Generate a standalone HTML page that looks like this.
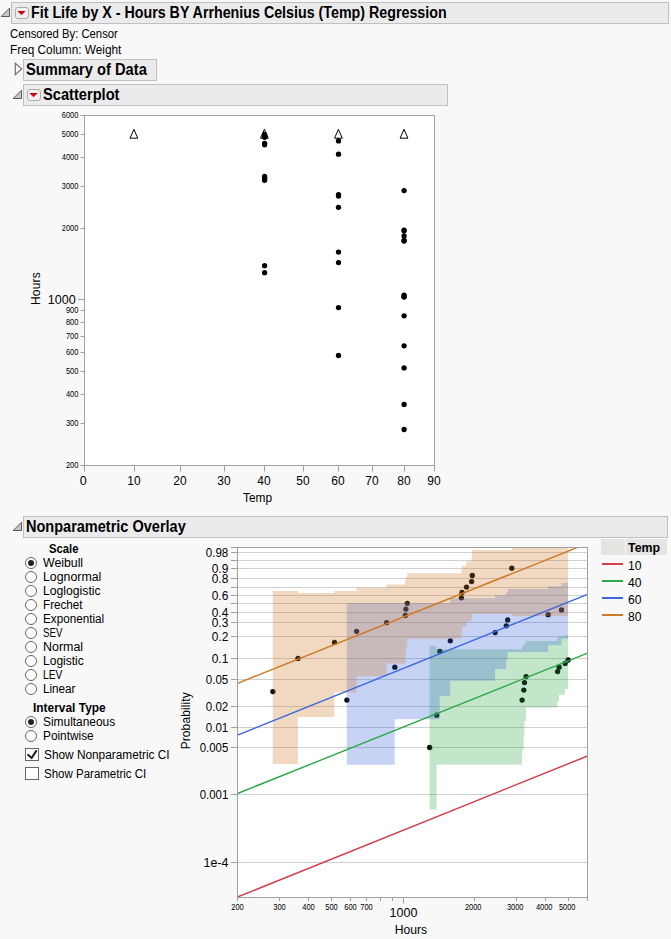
<!DOCTYPE html>
<html lang="en"><head><meta charset="utf-8"><title>Fit Life by X</title>
<style>
html,body{margin:0;padding:0;background:#f8f8f8}
body{width:671px;height:939px;background:#f8f8f8;position:relative;overflow:hidden;font-family:"Liberation Sans", sans-serif;font-size:12px;color:#000}
.hd{position:absolute;background:#ebebeb;border:1px solid #c0c0c0;box-sizing:border-box}
.t{position:absolute;white-space:nowrap;line-height:1}
.b{font-weight:bold}
.rb{position:absolute;width:12px;height:12px;border-radius:50%;border:1px solid #666;background:#fff;box-sizing:border-box}
.rb.on::after{content:"";position:absolute;left:2px;top:2px;width:6px;height:6px;border-radius:50%;background:#222}
.cb{position:absolute;width:14px;height:13px;border:1px solid #666;background:#fff;box-sizing:border-box}
.rt{position:absolute;width:14px;height:12px;border:1px solid #acacac;border-radius:3px;background:#f1f1f1;box-sizing:border-box}
svg{position:absolute;left:0;top:0}
svg text{font-family:"Liberation Sans", sans-serif}
</style></head><body>
<div class="hd" style="left:11px;top:2px;width:658px;height:22px"></div>
<div class="hd" style="left:23px;top:59px;width:134px;height:22px"></div>
<div class="hd" style="left:23px;top:84px;width:425px;height:22px"></div>
<div class="hd" style="left:23px;top:516px;width:645px;height:22px"></div>
<div class="t b" style="left:31.2px;top:4px;font-size:16px;line-height:17px;transform:scaleX(0.8910);transform-origin:0 0;">Fit Life by X - Hours BY Arrhenius Celsius (Temp) Regression</div>
<div class="t" style="left:9.5px;top:27px;font-size:12px;line-height:14px;transform:scaleX(0.9396);transform-origin:0 0;">Censored By: Censor</div>
<div class="t" style="left:10.1px;top:43px;font-size:12px;line-height:14px;transform:scaleX(0.9845);transform-origin:0 0;">Freq Column: Weight</div>
<div class="t b" style="left:26.0px;top:61px;font-size:16px;line-height:17px;transform:scaleX(0.9180);transform-origin:0 0;">Summary of Data</div>
<div class="t b" style="left:43.0px;top:86px;font-size:16px;line-height:17px;transform:scaleX(0.9154);transform-origin:0 0;">Scatterplot</div>
<div class="t b" style="left:25.9px;top:518px;font-size:16px;line-height:17px;transform:scaleX(0.9070);transform-origin:0 0;">Nonparametric Overlay</div>
<div class="rt" style="left:15px;top:7px"></div>
<div class="rt" style="left:27px;top:89px"></div>
<div class="t b" style="left:49.1px;top:542px;font-size:12px;line-height:14px;transform:scaleX(0.9407);transform-origin:0 0;">Scale</div>
<div class="rb on" style="left:25px;top:557.0px"></div>
<div class="t" style="left:42.8px;top:556px;font-size:12px;line-height:14px;transform:scaleX(1.0248);transform-origin:0 0;">Weibull</div>
<div class="rb" style="left:25px;top:571.0px"></div>
<div class="t" style="left:42.8px;top:570px;font-size:12px;line-height:14px;transform:scaleX(1.0282);transform-origin:0 0;">Lognormal</div>
<div class="rb" style="left:25px;top:585.0px"></div>
<div class="t" style="left:42.8px;top:584px;font-size:12px;line-height:14px;transform:scaleX(1.0158);transform-origin:0 0;">Loglogistic</div>
<div class="rb" style="left:25px;top:599.0px"></div>
<div class="t" style="left:42.8px;top:598px;font-size:12px;line-height:14px;transform:scaleX(0.9734);transform-origin:0 0;">Frechet</div>
<div class="rb" style="left:25px;top:613.0px"></div>
<div class="t" style="left:42.8px;top:612px;font-size:12px;line-height:14px;transform:scaleX(0.9742);transform-origin:0 0;">Exponential</div>
<div class="rb" style="left:25px;top:627.0px"></div>
<div class="t" style="left:42.8px;top:626px;font-size:12px;line-height:14px;transform:scaleX(0.8079);transform-origin:0 0;">SEV</div>
<div class="rb" style="left:25px;top:641.0px"></div>
<div class="t" style="left:42.8px;top:640px;font-size:12px;line-height:14px;transform:scaleX(1.0369);transform-origin:0 0;">Normal</div>
<div class="rb" style="left:25px;top:655.0px"></div>
<div class="t" style="left:42.8px;top:654px;font-size:12px;line-height:14px;transform:scaleX(1.0027);transform-origin:0 0;">Logistic</div>
<div class="rb" style="left:25px;top:669.0px"></div>
<div class="t" style="left:42.8px;top:668px;font-size:12px;line-height:14px;transform:scaleX(0.8553);transform-origin:0 0;">LEV</div>
<div class="rb" style="left:25px;top:683.0px"></div>
<div class="t" style="left:42.8px;top:682px;font-size:12px;line-height:14px;transform:scaleX(0.9742);transform-origin:0 0;">Linear</div>
<div class="t b" style="left:32.9px;top:701px;font-size:12px;line-height:14px;transform:scaleX(0.9940);transform-origin:0 0;">Interval Type</div>
<div class="rb on" style="left:25px;top:716.0px"></div>
<div class="t" style="left:43.0px;top:715px;font-size:12px;line-height:14px;transform:scaleX(0.9930);transform-origin:0 0;">Simultaneous</div>
<div class="rb" style="left:25px;top:730.0px"></div>
<div class="t" style="left:43.0px;top:729px;font-size:12px;line-height:14px;transform:scaleX(0.9872);transform-origin:0 0;">Pointwise</div>
<div class="cb" style="left:25px;top:748px"></div>
<div class="cb" style="left:25px;top:767px"></div>
<div class="t" style="left:44.3px;top:748px;font-size:12px;line-height:14px;transform:scaleX(0.9860);transform-origin:0 0;">Show Nonparametric CI</div>
<div class="t" style="left:44.3px;top:767px;font-size:12px;line-height:14px;transform:scaleX(0.9587);transform-origin:0 0;">Show Parametric CI</div>
<div style="position:absolute;left:601px;top:539px;width:24px;height:16px;background:#e4e4e0"></div>
<div style="position:absolute;left:626px;top:539px;width:41px;height:16px;background:#e4e4e0"></div>
<div class="t b" style="left:627.8px;top:541px;font-size:12px;line-height:14px;transform:scaleX(1.0317);transform-origin:0 0;">Temp</div>
<div class="t" style="left:628.1px;top:559px;font-size:12px;line-height:14px;transform:scaleX(1.0114);transform-origin:0 0;">10</div>
<div class="t" style="left:628.1px;top:576px;font-size:12px;line-height:14px;transform:scaleX(1.0114);transform-origin:0 0;">40</div>
<div class="t" style="left:628.1px;top:593px;font-size:12px;line-height:14px;transform:scaleX(1.0114);transform-origin:0 0;">60</div>
<div class="t" style="left:628.1px;top:610px;font-size:12px;line-height:14px;transform:scaleX(1.0114);transform-origin:0 0;">80</div>
<svg width="671" height="939" viewBox="0 0 671 939">
<defs><linearGradient id="rg" x1="0" y1="0" x2="0" y2="1"><stop offset="0" stop-color="#b80000"/><stop offset="1" stop-color="#e8202a"/></linearGradient></defs>
<path d="M9.5 8.2 L9.5 16.5 L1.2 16.5 Z" fill="#c6c6c6" stroke="#585858" stroke-width="1" stroke-linejoin="miter"/>
<path d="M21.5 90.2 L21.5 98.5 L13.2 98.5 Z" fill="#c6c6c6" stroke="#585858" stroke-width="1" stroke-linejoin="miter"/>
<path d="M21.5 522.2 L21.5 530.5 L13.2 530.5 Z" fill="#c6c6c6" stroke="#585858" stroke-width="1" stroke-linejoin="miter"/>
<path d="M15.3 63.3 L21.6 68.9 L15.3 74.7 Z" fill="none" stroke="#707070" stroke-width="1.2"/>
<path d="M17.3 10.9 h8.4 l-4.2 4.3 z" fill="url(#rg)"/>
<path d="M29.3 92.9 h8.4 l-4.2 4.3 z" fill="url(#rg)"/>
<path d="M27.5 754.3 l4.1 3.7 l5 -7.6" fill="none" stroke="#222" stroke-width="2.1"/>
<line x1="602" x2="623" y1="564" y2="564" stroke="#d0404f" stroke-width="2"/>
<line x1="602" x2="623" y1="581" y2="581" stroke="#2fa84a" stroke-width="2"/>
<line x1="602" x2="623" y1="598" y2="598" stroke="#3c68dc" stroke-width="2"/>
<line x1="602" x2="623" y1="615" y2="615" stroke="#cf7a28" stroke-width="2"/>
<rect x="84.5" y="115.5" width="350" height="350" fill="#fff" stroke="#a0a0a0" stroke-width="1"/>
<line x1="80.5" x2="84.5" y1="115.5" y2="115.5" stroke="#a0a0a0"/>
<text x="78.4" y="117.8" font-size="8.6" text-anchor="end" textLength="16.6" lengthAdjust="spacingAndGlyphs">6000</text>
<line x1="80.5" x2="84.5" y1="134.5" y2="134.5" stroke="#a0a0a0"/>
<text x="78.4" y="136.8" font-size="8.6" text-anchor="end" textLength="16.6" lengthAdjust="spacingAndGlyphs">5000</text>
<line x1="80.5" x2="84.5" y1="157.5" y2="157.5" stroke="#a0a0a0"/>
<text x="78.4" y="159.8" font-size="8.6" text-anchor="end" textLength="16.6" lengthAdjust="spacingAndGlyphs">4000</text>
<line x1="80.5" x2="84.5" y1="186.5" y2="186.5" stroke="#a0a0a0"/>
<text x="78.4" y="188.8" font-size="8.6" text-anchor="end" textLength="16.6" lengthAdjust="spacingAndGlyphs">3000</text>
<line x1="80.5" x2="84.5" y1="228.5" y2="228.5" stroke="#a0a0a0"/>
<text x="78.4" y="230.8" font-size="8.6" text-anchor="end" textLength="16.6" lengthAdjust="spacingAndGlyphs">2000</text>
<line x1="80.5" x2="84.5" y1="310.5" y2="310.5" stroke="#a0a0a0"/>
<text x="78.4" y="312.8" font-size="8.6" text-anchor="end" textLength="12.5" lengthAdjust="spacingAndGlyphs">900</text>
<line x1="80.5" x2="84.5" y1="322.5" y2="322.5" stroke="#a0a0a0"/>
<text x="78.4" y="324.8" font-size="8.6" text-anchor="end" textLength="12.5" lengthAdjust="spacingAndGlyphs">800</text>
<line x1="80.5" x2="84.5" y1="336.5" y2="336.5" stroke="#a0a0a0"/>
<text x="78.4" y="338.8" font-size="8.6" text-anchor="end" textLength="12.5" lengthAdjust="spacingAndGlyphs">700</text>
<line x1="80.5" x2="84.5" y1="352.5" y2="352.5" stroke="#a0a0a0"/>
<text x="78.4" y="354.8" font-size="8.6" text-anchor="end" textLength="12.5" lengthAdjust="spacingAndGlyphs">600</text>
<line x1="80.5" x2="84.5" y1="371.5" y2="371.5" stroke="#a0a0a0"/>
<text x="78.4" y="373.8" font-size="8.6" text-anchor="end" textLength="12.5" lengthAdjust="spacingAndGlyphs">500</text>
<line x1="80.5" x2="84.5" y1="394.5" y2="394.5" stroke="#a0a0a0"/>
<text x="78.4" y="396.8" font-size="8.6" text-anchor="end" textLength="12.5" lengthAdjust="spacingAndGlyphs">400</text>
<line x1="80.5" x2="84.5" y1="423.5" y2="423.5" stroke="#a0a0a0"/>
<text x="78.4" y="425.8" font-size="8.6" text-anchor="end" textLength="12.5" lengthAdjust="spacingAndGlyphs">300</text>
<line x1="80.5" x2="84.5" y1="465.5" y2="465.5" stroke="#a0a0a0"/>
<text x="78.4" y="467.8" font-size="8.6" text-anchor="end" textLength="12.5" lengthAdjust="spacingAndGlyphs">200</text>
<line x1="78" x2="84.5" y1="299.5" y2="299.5" stroke="#a0a0a0"/>
<text x="75.7" y="304.0" font-size="12" text-anchor="end" textLength="27.9" lengthAdjust="spacingAndGlyphs">1000</text>
<line x1="84.5" x2="84.5" y1="465.5" y2="471.5" stroke="#a0a0a0"/>
<text x="83.2" y="485.2" font-size="12" text-anchor="middle" textLength="7.0" lengthAdjust="spacingAndGlyphs">0</text>
<line x1="134.5" x2="134.5" y1="465.5" y2="471.5" stroke="#a0a0a0"/>
<text x="133.9" y="485.2" font-size="12" text-anchor="middle" textLength="13.3" lengthAdjust="spacingAndGlyphs">10</text>
<line x1="180.5" x2="180.5" y1="465.5" y2="471.5" stroke="#a0a0a0"/>
<text x="179.9" y="485.2" font-size="12" text-anchor="middle" textLength="13.3" lengthAdjust="spacingAndGlyphs">20</text>
<line x1="224.5" x2="224.5" y1="465.5" y2="471.5" stroke="#a0a0a0"/>
<text x="223.9" y="485.2" font-size="12" text-anchor="middle" textLength="13.3" lengthAdjust="spacingAndGlyphs">30</text>
<line x1="264.5" x2="264.5" y1="465.5" y2="471.5" stroke="#a0a0a0"/>
<text x="263.9" y="485.2" font-size="12" text-anchor="middle" textLength="13.3" lengthAdjust="spacingAndGlyphs">40</text>
<line x1="303.5" x2="303.5" y1="465.5" y2="471.5" stroke="#a0a0a0"/>
<text x="302.9" y="485.2" font-size="12" text-anchor="middle" textLength="13.3" lengthAdjust="spacingAndGlyphs">50</text>
<line x1="338.5" x2="338.5" y1="465.5" y2="471.5" stroke="#a0a0a0"/>
<text x="337.9" y="485.2" font-size="12" text-anchor="middle" textLength="13.3" lengthAdjust="spacingAndGlyphs">60</text>
<line x1="372.5" x2="372.5" y1="465.5" y2="471.5" stroke="#a0a0a0"/>
<text x="371.9" y="485.2" font-size="12" text-anchor="middle" textLength="13.3" lengthAdjust="spacingAndGlyphs">70</text>
<line x1="404.5" x2="404.5" y1="465.5" y2="471.5" stroke="#a0a0a0"/>
<text x="403.9" y="485.2" font-size="12" text-anchor="middle" textLength="13.3" lengthAdjust="spacingAndGlyphs">80</text>
<line x1="434.5" x2="434.5" y1="465.5" y2="471.5" stroke="#a0a0a0"/>
<text x="433.9" y="485.2" font-size="12" text-anchor="middle" textLength="13.3" lengthAdjust="spacingAndGlyphs">90</text>
<text x="257.5" y="501.7" font-size="12" text-anchor="middle" textLength="29.1" lengthAdjust="spacingAndGlyphs">Temp</text>
<text transform="translate(39.9 288.6) rotate(-90)" font-size="12" text-anchor="middle" letter-spacing="0.15">Hours</text>
<circle cx="264.6" cy="272.7" r="2.65" fill="#000"/>
<circle cx="264.6" cy="265.7" r="2.65" fill="#000"/>
<circle cx="264.6" cy="180.3" r="2.65" fill="#000"/>
<circle cx="264.6" cy="178.6" r="2.65" fill="#000"/>
<circle cx="264.6" cy="177.9" r="2.65" fill="#000"/>
<circle cx="264.6" cy="176.3" r="2.65" fill="#000"/>
<circle cx="264.6" cy="144.8" r="2.65" fill="#000"/>
<circle cx="264.6" cy="143.3" r="2.65" fill="#000"/>
<circle cx="264.6" cy="137.3" r="2.65" fill="#000"/>
<circle cx="264.6" cy="134.3" r="2.65" fill="#000"/>
<circle cx="338.5" cy="355.5" r="2.65" fill="#000"/>
<circle cx="338.5" cy="307.6" r="2.65" fill="#000"/>
<circle cx="338.5" cy="262.6" r="2.65" fill="#000"/>
<circle cx="338.5" cy="252.1" r="2.65" fill="#000"/>
<circle cx="338.5" cy="207.3" r="2.65" fill="#000"/>
<circle cx="338.5" cy="196.1" r="2.65" fill="#000"/>
<circle cx="338.5" cy="194.7" r="2.65" fill="#000"/>
<circle cx="338.5" cy="154.2" r="2.65" fill="#000"/>
<circle cx="338.5" cy="140.9" r="2.65" fill="#000"/>
<circle cx="404.1" cy="429.5" r="2.65" fill="#000"/>
<circle cx="404.1" cy="404.4" r="2.65" fill="#000"/>
<circle cx="404.1" cy="367.9" r="2.65" fill="#000"/>
<circle cx="404.1" cy="345.8" r="2.65" fill="#000"/>
<circle cx="404.1" cy="315.8" r="2.65" fill="#000"/>
<circle cx="404.1" cy="297.1" r="2.65" fill="#000"/>
<circle cx="404.1" cy="296.5" r="2.65" fill="#000"/>
<circle cx="404.1" cy="295.1" r="2.65" fill="#000"/>
<circle cx="404.1" cy="241.0" r="2.65" fill="#000"/>
<circle cx="404.1" cy="240.4" r="2.65" fill="#000"/>
<circle cx="404.1" cy="235.9" r="2.65" fill="#000"/>
<circle cx="404.1" cy="230.8" r="2.65" fill="#000"/>
<circle cx="404.1" cy="230.1" r="2.65" fill="#000"/>
<circle cx="404.1" cy="190.6" r="2.65" fill="#000"/>
<path d="M133.9 129.4 L137.8 138.2 L130.0 138.2 Z" fill="none" stroke="#000" stroke-width="1"/>
<path d="M264.4 129.4 L268.3 138.2 L260.5 138.2 Z" fill="none" stroke="#000" stroke-width="1"/>
<path d="M338.4 129.4 L342.3 138.2 L334.5 138.2 Z" fill="none" stroke="#000" stroke-width="1"/>
<path d="M404.0 129.4 L407.9 138.2 L400.1 138.2 Z" fill="none" stroke="#000" stroke-width="1"/>
<rect x="237.5" y="547.5" width="350" height="350" fill="#fff"/>
<line x1="237.5" x2="587.5" y1="552.5" y2="552.5" stroke="#d0d0d0"/>
<line x1="237.5" x2="587.5" y1="568.5" y2="568.5" stroke="#d0d0d0"/>
<line x1="237.5" x2="587.5" y1="578.5" y2="578.5" stroke="#d0d0d0"/>
<line x1="237.5" x2="587.5" y1="595.5" y2="595.5" stroke="#d0d0d0"/>
<line x1="237.5" x2="587.5" y1="612.5" y2="612.5" stroke="#d0d0d0"/>
<line x1="237.5" x2="587.5" y1="622.5" y2="622.5" stroke="#d0d0d0"/>
<line x1="237.5" x2="587.5" y1="636.5" y2="636.5" stroke="#d0d0d0"/>
<line x1="237.5" x2="587.5" y1="658.5" y2="658.5" stroke="#d0d0d0"/>
<line x1="237.5" x2="587.5" y1="679.5" y2="679.5" stroke="#d0d0d0"/>
<line x1="237.5" x2="587.5" y1="706.5" y2="706.5" stroke="#d0d0d0"/>
<line x1="237.5" x2="587.5" y1="727.5" y2="727.5" stroke="#d0d0d0"/>
<line x1="237.5" x2="587.5" y1="747.5" y2="747.5" stroke="#d0d0d0"/>
<line x1="237.5" x2="587.5" y1="794.5" y2="794.5" stroke="#d0d0d0"/>
<line x1="237.5" x2="587.5" y1="862.5" y2="862.5" stroke="#d0d0d0"/>
<line x1="237.5" x2="587.5" y1="560.5" y2="560.5" stroke="#d0d0d0"/>
<line x1="237.5" x2="587.5" y1="587.5" y2="587.5" stroke="#d0d0d0"/>
<line x1="237.5" x2="587.5" y1="603.5" y2="603.5" stroke="#d0d0d0"/>
<circle cx="429.7" cy="747.5" r="2.65" fill="#000"/>
<circle cx="436.7" cy="715.2" r="2.65" fill="#000"/>
<circle cx="522.1" cy="700.1" r="2.65" fill="#000"/>
<circle cx="523.8" cy="690.1" r="2.65" fill="#000"/>
<circle cx="524.5" cy="682.6" r="2.65" fill="#000"/>
<circle cx="526.1" cy="676.6" r="2.65" fill="#000"/>
<circle cx="557.6" cy="671.6" r="2.65" fill="#000"/>
<circle cx="559.1" cy="667.2" r="2.65" fill="#000"/>
<circle cx="565.1" cy="663.4" r="2.65" fill="#000"/>
<circle cx="568.1" cy="660.0" r="2.65" fill="#000"/>
<circle cx="346.9" cy="700.1" r="2.65" fill="#000"/>
<circle cx="394.8" cy="667.2" r="2.65" fill="#000"/>
<circle cx="439.8" cy="651.5" r="2.65" fill="#000"/>
<circle cx="450.3" cy="640.8" r="2.65" fill="#000"/>
<circle cx="495.1" cy="632.6" r="2.65" fill="#000"/>
<circle cx="506.3" cy="625.8" r="2.65" fill="#000"/>
<circle cx="507.7" cy="619.9" r="2.65" fill="#000"/>
<circle cx="548.2" cy="614.7" r="2.65" fill="#000"/>
<circle cx="561.5" cy="609.9" r="2.65" fill="#000"/>
<circle cx="272.9" cy="691.6" r="2.65" fill="#000"/>
<circle cx="298.0" cy="658.4" r="2.65" fill="#000"/>
<circle cx="334.5" cy="642.4" r="2.65" fill="#000"/>
<circle cx="356.6" cy="631.3" r="2.65" fill="#000"/>
<circle cx="386.6" cy="622.7" r="2.65" fill="#000"/>
<circle cx="405.3" cy="615.5" r="2.65" fill="#000"/>
<circle cx="405.9" cy="609.1" r="2.65" fill="#000"/>
<circle cx="407.3" cy="603.3" r="2.65" fill="#000"/>
<circle cx="461.4" cy="597.8" r="2.65" fill="#000"/>
<circle cx="462.0" cy="592.5" r="2.65" fill="#000"/>
<circle cx="466.5" cy="587.1" r="2.65" fill="#000"/>
<circle cx="471.6" cy="581.6" r="2.65" fill="#000"/>
<circle cx="472.3" cy="575.5" r="2.65" fill="#000"/>
<circle cx="511.8" cy="568.2" r="2.65" fill="#000"/>
<path d="M429.6 645.9 L436.6 645.9 L436.6 649.2 L522.0 649.2 L522.0 646.5 L523.7 646.5 L523.7 644.5 L524.4 644.5 L524.4 643.0 L526.0 643.0 L526.0 641.0 L557.5 641.0 L557.5 637.0 L559.0 637.0 L559.0 636.2 L565.0 636.2 L565.0 635.2 L568.0 635.2 L568.0 689.1 L565.0 689.1 L565.0 694.7 L559.0 694.7 L559.0 701.0 L557.5 701.0 L557.5 707.6 L526.0 707.6 L526.0 721.0 L524.4 721.0 L524.4 735.0 L523.7 735.0 L523.7 750.0 L522.0 750.0 L522.0 764.7 L436.6 764.7 L436.6 809.4 L429.6 809.4 Z" fill="#2fa84a" fill-opacity="0.29"/>
<path d="M346.8 603.1 L394.7 603.1 L394.7 603.1 L439.7 603.1 L439.7 603.1 L450.2 603.1 L450.2 598.2 L495.0 598.2 L495.0 595.3 L506.2 595.3 L506.2 592.3 L507.6 592.3 L507.6 588.9 L548.1 588.9 L548.1 586.3 L561.4 586.3 L561.4 583.1 L568.0 583.1 L568.0 638.8 L561.4 638.8 L561.4 645.3 L548.1 645.3 L548.1 652.1 L507.6 652.1 L507.6 659.4 L506.2 659.4 L506.2 668.9 L495.0 668.9 L495.0 680.7 L450.2 680.7 L450.2 696.1 L439.7 696.1 L439.7 719.2 L394.7 719.2 L394.7 764.8 L346.8 764.8 Z" fill="#3c68dc" fill-opacity="0.29"/>
<path d="M272.8 591.1 L297.9 591.1 L297.9 592.9 L334.4 592.9 L334.4 591.1 L356.5 591.1 L356.5 587.8 L386.5 587.8 L386.5 584.5 L405.2 584.5 L405.2 580.5 L405.8 580.5 L405.8 577.0 L407.2 577.0 L407.2 573.2 L461.3 573.2 L461.3 569.5 L461.9 569.5 L461.9 565.7 L466.4 565.7 L466.4 561.2 L471.5 561.2 L471.5 556.4 L472.2 556.4 L472.2 550.0 L511.7 550.0 L511.7 547.5 L568.0 547.5 L568.0 616.0 L511.7 616.0 L511.7 614.0 L472.2 614.0 L472.2 617.9 L471.5 617.9 L471.5 621.5 L466.4 621.5 L466.4 626.5 L461.9 626.5 L461.9 633.4 L461.3 633.4 L461.3 638.8 L407.2 638.8 L407.2 647.0 L405.8 647.0 L405.8 655.0 L405.2 655.0 L405.2 663.4 L386.5 663.4 L386.5 676.3 L356.5 676.3 L356.5 692.4 L334.4 692.4 L334.4 716.9 L297.9 716.9 L297.9 763.9 L272.8 763.9 Z" fill="#cf7a28" fill-opacity="0.29"/>
<clipPath id="wc"><rect x="237.5" y="547.5" width="350" height="350"/></clipPath>
<line x1="237.5" y1="897" x2="587.5" y2="756" stroke="#d0404f" stroke-width="1.45" clip-path="url(#wc)"/>
<line x1="237.5" y1="793.5" x2="587.5" y2="653.2" stroke="#2fa84a" stroke-width="1.45" clip-path="url(#wc)"/>
<line x1="237.5" y1="735.2" x2="587.5" y2="594.3" stroke="#3c68dc" stroke-width="1.45" clip-path="url(#wc)"/>
<line x1="237.5" y1="683.3" x2="587.5" y2="543.4" stroke="#cf7a28" stroke-width="1.45" clip-path="url(#wc)"/>
<rect x="237.5" y="547.5" width="350" height="350" fill="none" stroke="#a0a0a0" stroke-width="1"/>
<line x1="231" x2="237.5" y1="552.5" y2="552.5" stroke="#a0a0a0"/>
<text x="228.3" y="556.8" font-size="12" text-anchor="end" textLength="22.5" lengthAdjust="spacingAndGlyphs">0.98</text>
<line x1="231" x2="237.5" y1="568.5" y2="568.5" stroke="#a0a0a0"/>
<text x="228.3" y="572.8" font-size="12" text-anchor="end" textLength="16.6" lengthAdjust="spacingAndGlyphs">0.9</text>
<line x1="231" x2="237.5" y1="578.5" y2="578.5" stroke="#a0a0a0"/>
<text x="228.3" y="582.8" font-size="12" text-anchor="end" textLength="16.6" lengthAdjust="spacingAndGlyphs">0.8</text>
<line x1="231" x2="237.5" y1="595.5" y2="595.5" stroke="#a0a0a0"/>
<text x="228.3" y="599.8" font-size="12" text-anchor="end" textLength="16.6" lengthAdjust="spacingAndGlyphs">0.6</text>
<line x1="231" x2="237.5" y1="612.5" y2="612.5" stroke="#a0a0a0"/>
<text x="228.3" y="616.8" font-size="12" text-anchor="end" textLength="16.6" lengthAdjust="spacingAndGlyphs">0.4</text>
<line x1="231" x2="237.5" y1="622.5" y2="622.5" stroke="#a0a0a0"/>
<text x="228.3" y="626.8" font-size="12" text-anchor="end" textLength="16.6" lengthAdjust="spacingAndGlyphs">0.3</text>
<line x1="231" x2="237.5" y1="636.5" y2="636.5" stroke="#a0a0a0"/>
<text x="228.3" y="640.8" font-size="12" text-anchor="end" textLength="16.6" lengthAdjust="spacingAndGlyphs">0.2</text>
<line x1="231" x2="237.5" y1="658.5" y2="658.5" stroke="#a0a0a0"/>
<text x="228.3" y="662.8" font-size="12" text-anchor="end" textLength="16.6" lengthAdjust="spacingAndGlyphs">0.1</text>
<line x1="231" x2="237.5" y1="679.5" y2="679.5" stroke="#a0a0a0"/>
<text x="228.3" y="683.8" font-size="12" text-anchor="end" textLength="22.5" lengthAdjust="spacingAndGlyphs">0.05</text>
<line x1="231" x2="237.5" y1="706.5" y2="706.5" stroke="#a0a0a0"/>
<text x="228.3" y="710.8" font-size="12" text-anchor="end" textLength="22.5" lengthAdjust="spacingAndGlyphs">0.02</text>
<line x1="231" x2="237.5" y1="727.5" y2="727.5" stroke="#a0a0a0"/>
<text x="228.3" y="731.8" font-size="12" text-anchor="end" textLength="22.5" lengthAdjust="spacingAndGlyphs">0.01</text>
<line x1="231" x2="237.5" y1="747.5" y2="747.5" stroke="#a0a0a0"/>
<text x="228.3" y="751.8" font-size="12" text-anchor="end" textLength="28.6" lengthAdjust="spacingAndGlyphs">0.005</text>
<line x1="231" x2="237.5" y1="794.5" y2="794.5" stroke="#a0a0a0"/>
<text x="228.3" y="798.8" font-size="12" text-anchor="end" textLength="28.6" lengthAdjust="spacingAndGlyphs">0.001</text>
<line x1="231" x2="237.5" y1="862.5" y2="862.5" stroke="#a0a0a0"/>
<text x="228.3" y="866.8" font-size="12" text-anchor="end" textLength="24.8" lengthAdjust="spacingAndGlyphs">1e-4</text>
<line x1="231" x2="237.5" y1="560.5" y2="560.5" stroke="#a0a0a0"/>
<line x1="231" x2="237.5" y1="587.5" y2="587.5" stroke="#a0a0a0"/>
<line x1="231" x2="237.5" y1="603.5" y2="603.5" stroke="#a0a0a0"/>
<line x1="231" x2="237.5" y1="547.5" y2="547.5" stroke="#a0a0a0"/>
<line x1="237.5" x2="237.5" y1="897.5" y2="901" stroke="#a0a0a0"/>
<text x="237.5" y="910.2" font-size="8.6" text-anchor="middle" textLength="12.5" lengthAdjust="spacingAndGlyphs">200</text>
<line x1="279.5" x2="279.5" y1="897.5" y2="901" stroke="#a0a0a0"/>
<text x="279.5" y="910.2" font-size="8.6" text-anchor="middle" textLength="12.5" lengthAdjust="spacingAndGlyphs">300</text>
<line x1="308.5" x2="308.5" y1="897.5" y2="901" stroke="#a0a0a0"/>
<text x="308.5" y="910.2" font-size="8.6" text-anchor="middle" textLength="12.5" lengthAdjust="spacingAndGlyphs">400</text>
<line x1="331.5" x2="331.5" y1="897.5" y2="901" stroke="#a0a0a0"/>
<text x="331.5" y="910.2" font-size="8.6" text-anchor="middle" textLength="12.5" lengthAdjust="spacingAndGlyphs">500</text>
<line x1="350.5" x2="350.5" y1="897.5" y2="901" stroke="#a0a0a0"/>
<text x="350.5" y="910.2" font-size="8.6" text-anchor="middle" textLength="12.5" lengthAdjust="spacingAndGlyphs">600</text>
<line x1="366.5" x2="366.5" y1="897.5" y2="901" stroke="#a0a0a0"/>
<text x="366.5" y="910.2" font-size="8.6" text-anchor="middle" textLength="12.5" lengthAdjust="spacingAndGlyphs">700</text>
<line x1="380.5" x2="380.5" y1="897.5" y2="901" stroke="#a0a0a0"/>
<line x1="392.5" x2="392.5" y1="897.5" y2="901" stroke="#a0a0a0"/>
<line x1="474.5" x2="474.5" y1="897.5" y2="901" stroke="#a0a0a0"/>
<text x="473.2" y="910.2" font-size="8.6" text-anchor="middle" textLength="16.6" lengthAdjust="spacingAndGlyphs">2000</text>
<line x1="516.5" x2="516.5" y1="897.5" y2="901" stroke="#a0a0a0"/>
<text x="515.2" y="910.2" font-size="8.6" text-anchor="middle" textLength="16.6" lengthAdjust="spacingAndGlyphs">3000</text>
<line x1="545.5" x2="545.5" y1="897.5" y2="901" stroke="#a0a0a0"/>
<text x="544.2" y="910.2" font-size="8.6" text-anchor="middle" textLength="16.6" lengthAdjust="spacingAndGlyphs">4000</text>
<line x1="568.5" x2="568.5" y1="897.5" y2="901" stroke="#a0a0a0"/>
<text x="567.2" y="910.2" font-size="8.6" text-anchor="middle" textLength="16.6" lengthAdjust="spacingAndGlyphs">5000</text>
<line x1="587.5" x2="587.5" y1="897.5" y2="901" stroke="#a0a0a0"/>
<line x1="403.5" x2="403.5" y1="897.5" y2="903.5" stroke="#a0a0a0"/>
<text x="403.5" y="916.8" font-size="12" text-anchor="middle" textLength="27.8" lengthAdjust="spacingAndGlyphs">1000</text>
<text x="410.9" y="933.7" font-size="12" text-anchor="middle" textLength="32.4" lengthAdjust="spacingAndGlyphs">Hours</text>
<text transform="translate(189.8 720.8) rotate(-90)" font-size="12" text-anchor="middle" letter-spacing="0.1">Probability</text>
</svg>
</body></html>
